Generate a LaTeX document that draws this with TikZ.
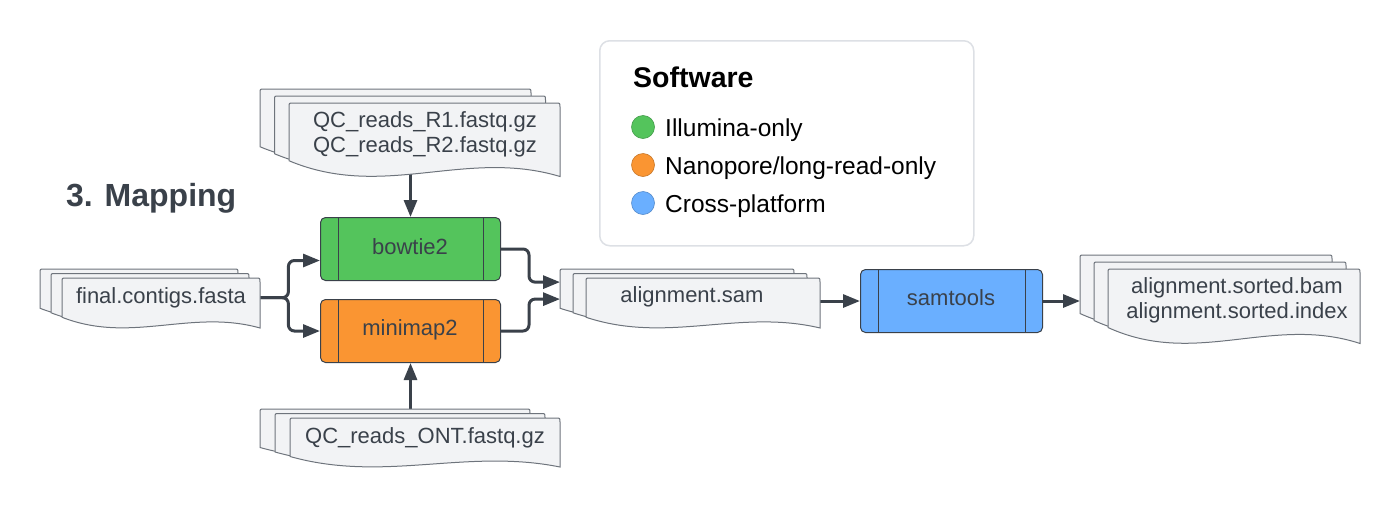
\documentclass[tikz,border=0pt]{standalone}
\usepackage{fontspec}
\setmainfont{Liberation Sans}
\usetikzlibrary{arrows.meta,calc}
\definecolor{ink}{HTML}{3A414A}
\definecolor{docfill}{HTML}{F2F3F5}
\definecolor{docline}{HTML}{6E747C}
\definecolor{cgreen}{HTML}{54C45C}
\definecolor{corange}{HTML}{FA9532}
\definecolor{cblue}{HTML}{6AAFFF}
\definecolor{legline}{HTML}{DDE0E5}
\tikzset{
  docstyle/.style={fill=docfill, draw=docline, line width=1pt},
  docbody/.style={inner sep=0pt, anchor=north west, minimum width=#1},
  doctext/.style={inner sep=0pt, anchor=base, align=center, text=ink,
    font=\fontsize{22}{25}\selectfont},
  process/.style={draw=ink, line width=1pt, rounded corners=5pt, inner sep=0pt,
    minimum width=180pt, minimum height=63pt, anchor=north west},
  proctext/.style={inner sep=0pt, anchor=base, text=ink, font=\fontsize{22}{25}\selectfont},
  arr/.style={draw=ink, line width=3pt, rounded corners=6pt,
    -{Triangle[length=17pt,width=13pt]}},
  legtext/.style={inner sep=0pt, anchor=base west, text=black, font=\fontsize{24.5}{28}\selectfont},
  legdot/.style={circle, inner sep=0pt, minimum size=23pt, line width=0.6pt},
}
% one document sheet: x y w h
\newcommand{\docsheet}[4]{%
  \filldraw[docstyle] (#1,#2+0.77*#4) -- (#1,#2+4) .. controls (#1,#2) .. (#1+4,#2)
    -- (#1+#3-4,#2) .. controls (#1+#3,#2) .. (#1+#3,#2+4)
    -- (#1+#3,#2+0.98*#4)
    .. controls (#1+0.65*#3,#2+0.6*#4) and (#1+0.35*#3,#2+1.3*#4) .. (#1,#2+0.77*#4) -- cycle;}
% stack of three sheets: x y w h dx dy
\newcommand{\docstack}[6]{%
  \docsheet{#1-2*#5}{#2-2*#6}{#3}{#4}%
  \docsheet{#1-#5}{#2-#6}{#3}{#4}%
  \docsheet{#1}{#2}{#3}{#4}}
\begin{document}
\begin{tikzpicture}[x=1pt,y=-1pt]
\useasboundingbox (0,0) rectangle (1400,509);

% ---------- invisible bodies of the document stacks (for connectors)
\node[docbody=198pt, minimum height=39pt] (fc) at (62,278) {};
\node[docbody=271pt, minimum height=58pt] (rr) at (289,103) {};
\node[docbody=270pt, minimum height=38pt] (ontb) at (260,409) {};
\node[docbody=234pt, minimum height=39pt] (sam) at (586,278) {};
\node[docbody=234pt, minimum height=39pt] (samb) at (560,269) {};
\node[docbody=252pt, minimum height=58pt] (srtb) at (1080,255) {};

% ---------- process boxes
\node[process, fill=cgreen] (bowtie) at (320,217) {};
\node[process, fill=corange] (minimap) at (320,299) {};
\node[process, fill=cblue, minimum width=182pt] (samtools) at (860,269) {};
\foreach \b in {bowtie,minimap,samtools}{
  \draw[ink, line width=1pt] ([xshift=18pt]\b.north west) -- ([xshift=18pt]\b.south west);
  \draw[ink, line width=1pt] ([xshift=-18pt]\b.north east) -- ([xshift=-18pt]\b.south east);
}
\node[proctext] (bowtiet) at (410,254) {bowtie2};
\node[proctext] (minimapt) at (410,335) {minimap2};
\node[proctext] (samtoolst) at (951,305) {samtools};

% ---------- connectors (drawn before sheets so the sheets cover their starts)
\draw[arr] (fc.east) -- ++(28,0) |- ([yshift=-11.5pt]bowtie.west);
\draw[arr] (fc.east) -- ++(28,0) |- (minimap.west);
\draw[arr] (bowtie.north |- rr.south) -- (bowtie.north);
\draw[arr] (minimap.south |- ontb.north) -- (minimap.south);
\draw[arr] (bowtie.east) -- ++(28,0) |- ([yshift=6.6pt]samb.west);
\draw[arr] (minimap.east) -- ++(28,0) |- ([yshift=-10.4pt]samb.west);
\draw[arr] (samtools.west -| sam.east) -- (samtools.west);
\draw[arr] (samtools.east) -- (samtools.east -| srtb.west);

% ---------- document stacks
\docstack{62}{278}{198}{51}{11}{4.5}
\docstack{289}{103}{271}{75}{14.5}{7}
\docstack{290}{418}{270}{50}{15}{4.5}
\docstack{586}{278}{234}{51}{13}{4.5}
\docstack{1108}{269}{252}{76}{14}{7}

\node[doctext] (fct) at (161,303) {final.contigs.fasta};
\node[doctext] (rrt) at (425,152) {QC\_reads\_R1.fastq.gz\\QC\_reads\_R2.fastq.gz};
\node[doctext] (ontt) at (425,443) {QC\_reads\_ONT.fastq.gz};
\node[doctext] (samt) at (692,302) {alignment.sam};
\node[doctext] (srtt) at (1237,318) {alignment.sorted.bam\\alignment.sorted.index};

% ---------- title
\node[inner sep=0pt, anchor=base west, text=ink, font=\bfseries\fontsize{32}{36}\selectfont] (title) at (66,206) {3. Mapping};

% ---------- legend
\node[draw=legline, line width=1.5pt, fill=white, rounded corners=10pt, anchor=north west,
  minimum width=374pt, minimum height=205pt, inner sep=0pt] (legend) at (599,40) {};
\node[inner sep=0pt, anchor=base west, text=black, font=\bfseries\fontsize{28.5}{30}\selectfont] (legtitle) at (633,87) {Software};
\node[legdot, fill=cgreen, draw=cgreen!80!black] (dg) at (643,127) {};
\node[legdot, fill=corange, draw=corange!80!black] (do) at (643,165) {};
\node[legdot, fill=cblue, draw=cblue!80!black] (db) at (643,203) {};
\node[legtext] (lg) at (665,136) {Illumina-only};
\node[legtext] (lo) at (665,174) {Nanopore/long-read-only};
\node[legtext] (lb) at (665,212) {Cross-platform};
\end{tikzpicture}
\end{document}
